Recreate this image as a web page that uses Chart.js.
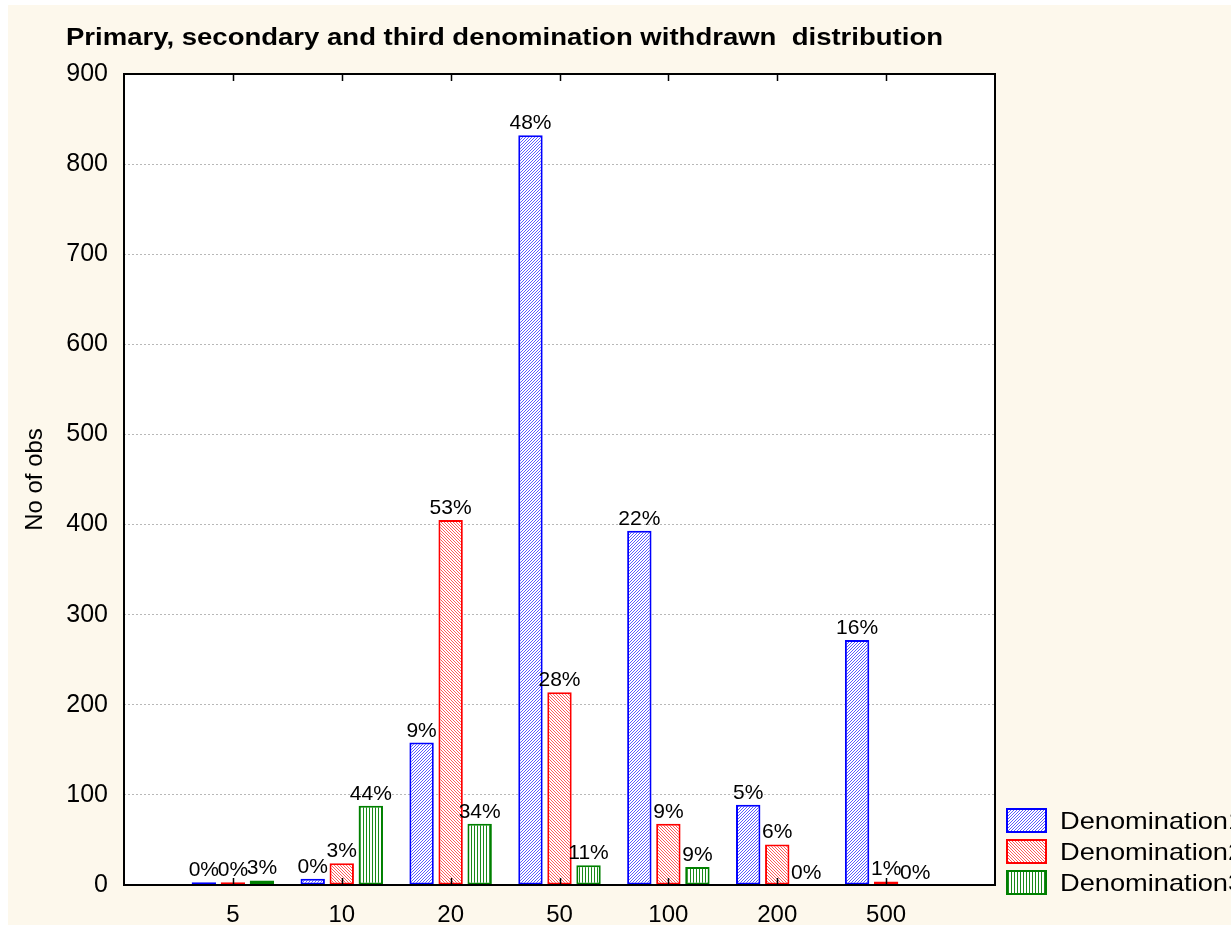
<!DOCTYPE html>
<html>
<head>
<meta charset="utf-8">
<title>Denomination withdrawn distribution</title>
<script src="https://cdn.jsdelivr.net/npm/chart.js@4.4.0/dist/chart.umd.min.js"></script>
<style>
    html, body { margin: 0; padding: 0; background: #ffffff; }
    #chart { display: block; }
</style>
</head>
<body>
<canvas id="chart" width="1231" height="936"></canvas>
<script>
// Data
const categories = ['5', '10', '20', '50', '100', '200', '500'];
const seriesNames = ['Denomination1', 'Denomination2', 'Denomination3'];
const denomination1 = [3, 7, 158, 832, 393, 89, 272];
const denomination2 = [3, 24, 405, 214, 68, 45, 4];
const denomination3 = [5, 88, 68, 22, 20, 0, 0];
const percent1 = ['0%', '0%', '9%', '48%', '22%', '5%', '16%'];
const percent2 = ['0%', '3%', '53%', '28%', '9%', '6%', '1%'];
const percent3 = ['3%', '44%', '34%', '11%', '9%', '0%', '0%'];
const yMin = 0;
const yMax = 900;
const yStep = 100;

const titleText = 'Primary, secondary and third denomination withdrawn  distribution';
const FONT = 'Arial, "Liberation Sans", sans-serif';

// empty slot on both ends so the 7 groups sit like the original axis
const xLabels = [''].concat(categories, ['']);
const pad = arr => [null].concat(arr, [null]);

// small hatch patterns for the bar fills
function makePattern(kind, color) {
    const c = document.createElement('canvas');
    const ctx = c.getContext('2d');
    c.width = 3;
    c.height = 3;
    ctx.fillStyle = '#ffffff';
    ctx.fillRect(0, 0, 3, 3);
    ctx.fillStyle = color;
    if (kind === 'vertical') {
        ctx.fillRect(0, 0, 1, 3);
    } else {
        for (let i = 0; i < 3; i++) {
            const x = kind === 'up' ? i : 2 - i;
            ctx.fillRect(x, 2 - i, 1, 1);
        }
    }
    return ctx.createPattern(c, 'repeat');
}

const fills = [
    makePattern('up', '#5a5aff'),
    makePattern('down', '#ff5a5a'),
    makePattern('vertical', '#1a8a1a')
];
const borders = ['#0000ff', '#ff0000', '#008000'];
const percents = [percent1, percent2, percent3];

// text stretched horizontally to a given width
function drawStretched(ctx, text, x, y, font, targetWidth) {
    ctx.save();
    ctx.font = font;
    const w = ctx.measureText(text).width;
    ctx.translate(x, y);
    ctx.scale(targetWidth / w, 1);
    ctx.fillText(text, 0, 0);
    ctx.restore();
}

const decorPlugin = {
    id: 'decor',
    beforeDraw(chart) {
        const { ctx, chartArea: a } = chart;
        ctx.save();
        ctx.fillStyle = '#fdf8ec';
        ctx.fillRect(8, 5, chart.width - 8, 920);
        ctx.fillStyle = '#ffffff';
        ctx.fillRect(a.left, a.top, a.right - a.left, a.bottom - a.top);
        ctx.restore();
    },
    afterDatasetsDraw(chart) {
        const { ctx, chartArea: a, scales } = chart;
        ctx.save();
        // frame
        ctx.strokeStyle = '#000000';
        ctx.lineWidth = 2;
        ctx.strokeRect(a.left, a.top, a.right - a.left, a.bottom - a.top);
        // inward tick marks at the categories, top and bottom
        ctx.lineWidth = 1.5;
        ctx.beginPath();
        categories.forEach((c, i) => {
            const x = Math.round(scales.x.getPixelForValue(i + 1)) + 0.5;
            ctx.moveTo(x, a.bottom);
            ctx.lineTo(x, a.bottom - 7);
            ctx.moveTo(x, a.top);
            ctx.lineTo(x, a.top + 7);
        });
        ctx.stroke();

        // percent labels above bars
        ctx.fillStyle = '#000000';
        ctx.font = '21px ' + FONT;
        ctx.textAlign = 'center';
        ctx.textBaseline = 'alphabetic';
        chart.data.datasets.forEach((ds, di) => {
            const meta = chart.getDatasetMeta(di);
            meta.data.forEach((bar, i) => {
                if (ds.data[i] === null) return;
                ctx.fillText(percents[di][i - 1], bar.x, bar.y - 6);
            });
        });

        // title
        ctx.textAlign = 'left';
        drawStretched(ctx, titleText, 66, 45, 'bold 23px ' + FONT, 877);

        // legend, right of the plot
        const lx = a.right + 11;
        seriesNames.forEach((name, i) => {
            const y = 808 + i * 31;
            ctx.fillStyle = fills[i];
            ctx.fillRect(lx, y, 41, 25);
            ctx.strokeStyle = borders[i];
            ctx.lineWidth = 2;
            ctx.strokeRect(lx + 1, y + 1, 39, 23);
            ctx.fillStyle = '#000000';
            ctx.font = '24px ' + FONT;
            const scaleX = 168 / ctx.measureText('Denomination').width;
            drawStretched(ctx, name, lx + 54, y + 21, '24px ' + FONT, ctx.measureText(name).width * scaleX);
        });
        ctx.restore();
    }
};

const chart = new Chart(document.getElementById('chart'), {
    type: 'bar',
    data: {
        labels: xLabels,
        datasets: [denomination1, denomination2, denomination3].map((vals, i) => ({
            label: seriesNames[i],
            data: pad(vals),
            backgroundColor: fills[i],
            borderColor: borders[i],
            borderWidth: 2,
            borderSkipped: false,
            categoryPercentage: 0.8,
            barPercentage: 0.84
        }))
    },
    options: {
        responsive: false,
        animation: false,
        devicePixelRatio: 1,
        layout: { padding: { top: 74, right: 236, bottom: 11, left: 0 } },
        plugins: {
            legend: { display: false },
            title: { display: false },
            tooltip: { enabled: false }
        },
        scales: {
            x: {
                offset: false,
                grid: { display: false, drawTicks: false },
                border: { display: false },
                ticks: {
                    color: '#000000',
                    font: { family: FONT, size: 24 },
                    padding: 16,
                    autoSkip: false,
                    maxRotation: 0
                },
                afterFit: s => { s.height = 40; }
            },
            y: {
                min: yMin,
                max: yMax,
                grid: { color: '#b8b8b8', lineWidth: 1, drawTicks: false },
                border: { display: false, dash: [2, 2] },
                ticks: {
                    stepSize: yStep,
                    color: '#000000',
                    font: { family: FONT, size: 25 },
                    padding: 16
                },
                title: {
                    display: true,
                    text: 'No of obs',
                    color: '#000000',
                    font: { family: FONT, size: 24 },
                    padding: { top: 21, bottom: 0 }
                },
                afterFit: s => { s.width = 124; }
            }
        }
    },
    plugins: [decorPlugin]
});
</script>
</body>
</html>
